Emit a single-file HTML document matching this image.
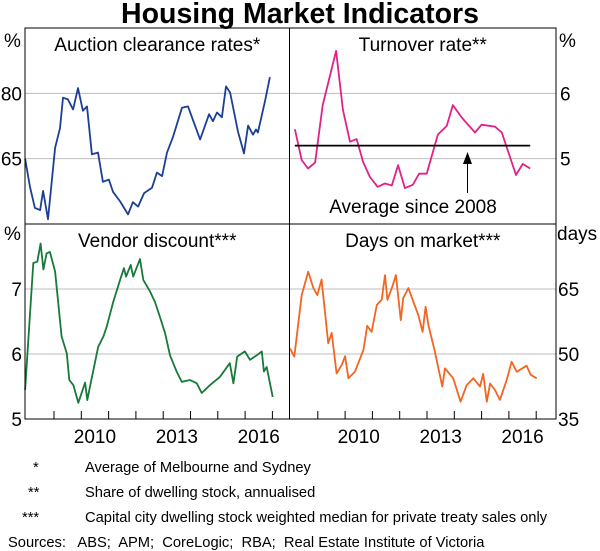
<!DOCTYPE html>
<html><head><meta charset="utf-8"><style>
body{margin:0;background:#fff;}
svg{display:block;font-family:"Liberation Sans",Arial,sans-serif;}
</style></head><body>
<svg id="chart" width="600" height="551" viewBox="0 0 600 551">
<text x="300" y="23" text-anchor="middle" font-size="28.5" font-weight="bold" fill="#000">Housing Market Indicators</text>
<g id="grid"></g>
<g id="series"></g>
<g id="frame"></g>
<g id="labels" font-size="19" fill="#000"></g>
<g id="notes" font-size="14.7" fill="#000" style="white-space:pre">
<text x="33" y="472">*</text><text x="85" y="472">Average of Melbourne and Sydney</text>
<text x="28" y="497">**</text><text x="85" y="497">Share of dwelling stock, annualised</text>
<text x="22" y="522">***</text><text x="85" y="522">Capital city dwelling stock weighted median for private treaty sales only</text>
<text x="8" y="547" xml:space="preserve">Sources:   ABS;  APM;  CoreLogic;  RBA;  Real Estate Institute of Victoria</text>
</g>
</svg>
<script>
// ---- data ----
const auctionYears=[2007.94,2008.12,2008.30,2008.49,2008.60,2008.78,2009.04,2009.22,2009.33,2009.51,2009.70,2009.88,2010.06,2010.21,2010.39,2010.61,2010.79,2011.01,2011.16,2011.42,2011.71,2011.89,2012.08,2012.30,2012.59,2012.77,2012.96,2013.14,2013.36,2013.69,2013.91,2014.35,2014.68,2014.82,2014.97,2015.15,2015.30,2015.45,2015.74,2015.96,2016.11,2016.29,2016.40,2016.47,2016.73,2016.91];
const auctionValues=[65,58.5,53.7,53.2,57.6,51.1,67.5,72,79,78.6,76.3,81.2,76,77,66,66.4,59.7,60.2,57.4,55.2,52.2,55,54,57.1,58.3,61.8,61,66.4,70,76.7,77,69.4,75.2,73.6,75.6,74.5,81.6,80.2,71.2,66.2,72.6,70.5,71.7,71,78.2,83.7];
const turnoverYears=[2008.16,2008.41,2008.64,2008.90,2009.18,2009.67,2009.92,2010.18,2010.42,2010.66,2010.91,2011.19,2011.46,2011.71,2011.94,2012.19,2012.48,2012.71,2012.99,2013.40,2013.72,2013.95,2014.27,2014.76,2015.00,2015.49,2015.74,2016.26,2016.51,2016.78];
const turnoverValues=[5.45,4.98,4.85,4.94,5.82,6.65,5.75,5.26,5.3,4.95,4.72,4.57,4.62,4.59,4.9,4.55,4.6,4.77,4.77,5.37,5.5,5.82,5.63,5.4,5.52,5.49,5.4,4.75,4.92,4.85];
const turnoverAverage=5.2;
const vendorYears=[2007.94,2008.24,2008.39,2008.51,2008.61,2008.73,2008.85,2009.04,2009.28,2009.47,2009.56,2009.71,2009.89,2010.01,2010.14,2010.22,2010.32,2010.62,2010.81,2010.93,2011.17,2011.42,2011.56,2011.64,2011.81,2011.90,2012.15,2012.27,2012.52,2012.70,2012.88,2013.07,2013.25,2013.49,2013.68,2013.98,2014.23,2014.41,2014.71,2015.08,2015.44,2015.57,2015.71,2015.99,2016.18,2016.43,2016.61,2016.69,2016.79,2017.01];
const vendorValues=[5.45,7.4,7.42,7.7,7.3,7.55,7.57,7.27,6.27,6.01,5.6,5.52,5.25,5.4,5.56,5.29,5.5,6.11,6.27,6.42,6.8,7.14,7.32,7.19,7.37,7.19,7.46,7.14,6.96,6.8,6.57,6.32,5.98,5.73,5.57,5.6,5.55,5.4,5.52,5.65,5.86,5.55,5.96,6.04,5.91,5.98,6.04,5.73,5.8,5.34];
const daysYears=[2007.98,2008.14,2008.41,2008.65,2008.84,2008.98,2009.14,2009.38,2009.51,2009.69,2009.88,2010.00,2010.12,2010.36,2010.67,2010.81,2010.97,2011.16,2011.34,2011.46,2011.55,2011.71,2011.86,2012.04,2012.13,2012.32,2012.50,2012.68,2012.84,2012.95,2013.05,2013.29,2013.56,2013.66,2013.96,2014.23,2014.45,2014.70,2014.94,2015.06,2015.19,2015.31,2015.49,2015.67,2015.92,2016.10,2016.29,2016.65,2016.80,2017.02];
const daysValues=[51.3,49.4,63.6,69,65.2,63.6,67.2,52.5,54.9,45.5,47.5,49.5,44.4,45.9,50.9,56.5,55.1,61.3,62.5,68.2,62.5,65.2,68.2,57.8,62.9,65.2,62.1,59,55.1,60.9,56.7,50.5,42.5,46.7,44.4,39,42.8,44.4,42.5,45.4,39,43.2,41.7,39.4,44,48.2,45.9,47.3,45.2,44.4];
const yearTickLabels=["2010","2013","2016"];
const leftTicksTop=["80","65"], rightTicksTop=["6","5"], leftTicksBot=["7","6","5"], rightTicksBot=["65","50","35"];

const NS="http://www.w3.org/2000/svg";
function mk(tag,attrs,parent){const e=document.createElementNS(NS,tag);for(const k in attrs)e.setAttribute(k,attrs[k]);parent.appendChild(e);return e;}
const L=25,M=289.5,R=556,T=28,MID=224,B=419;
const panels=[
 {x0:L,x1:M,y0:T,y1:MID,vmin:50,vmax:95,start:2008-(26.7-L)/27.3,years:auctionYears,vals:auctionValues,color:"#1c3f94",name:"auction-clearance-line",title:"Auction clearance rates*",grids:[80,65]},
 {x0:M,x1:R,y0:T,y1:MID,vmin:4,vmax:7,start:2008-(290.5-M)/27.3,years:turnoverYears,vals:turnoverValues,color:"#e0218a",name:"turnover-rate-line",title:"Turnover rate**",grids:[6,5]},
 {x0:L,x1:M,y0:MID,y1:B,vmin:5,vmax:8,start:2008-(26.7-L)/27.3,years:vendorYears,vals:vendorValues,color:"#17793a",name:"vendor-discount-line",title:"Vendor discount***",grids:[7,6],ticks:true},
 {x0:M,x1:R,y0:MID,y1:B,vmin:35,vmax:80,start:2008-(290.5-M)/27.3,years:daysYears,vals:daysValues,color:"#f26522",name:"days-on-market-line",title:"Days on market***",grids:[65,50],ticks:true}
];
const grid=document.getElementById('grid'),ser=document.getElementById('series'),frame=document.getElementById('frame'),lab=document.getElementById('labels');
panels.forEach(p=>{
 const xs=y=>p.x0+(y-p.start)*27.3;
 const ys=v=>p.y1-(v-p.vmin)/(p.vmax-p.vmin)*(p.y1-p.y0);
 p.xs=xs;p.ys=ys;
 p.grids.forEach(g=>{const l=mk('line',{x1:p.x0,x2:p.x1,y1:ys(g),y2:ys(g),stroke:"#bdbdbd","stroke-width":1},grid);
  
  });
 const d=p.years.map((y,i)=>(i?'L':'M')+xs(y).toFixed(1)+','+ys(p.vals[i]).toFixed(1)).join('');
 const path=mk('path',{d:d,fill:"none",stroke:p.color,"stroke-width":1.8,"stroke-linejoin":"round"},ser);
 
 
 const t=mk('text',{x:(p.x0+p.x1)/2,y:p.y0+23,"text-anchor":"middle"},lab);t.textContent=p.title;
 
 
 if(p.ticks){for(let y=2009;y<=2017;y++){const x=xs(y);if(x>p.x0+2&&x<p.x1-2){const tk=mk('line',{x1:x,x2:x,y1:B,y2:B-8,stroke:"#000","stroke-width":1},frame);
   
   }}
  yearTickLabels.forEach(s=>{const tx=mk('text',{x:xs(+s+0.5),y:443,"text-anchor":"middle"},lab);tx.textContent=s;
   
   });}
});
// turnover average
const tp=panels[1];
const avg=mk('line',{x1:tp.xs(turnoverYears[0]),x2:tp.xs(turnoverYears[turnoverYears.length-1]),y1:tp.ys(turnoverAverage),y2:tp.ys(turnoverAverage),stroke:"#000","stroke-width":1.8},ser);


const ar=mk('line',{x1:467.5,x2:467.5,y1:162,y2:193,stroke:"#000","stroke-width":1},ser);


const ah=mk('path',{d:"M467.5,152 L463,164 L472,164 Z",fill:"#000"},ser);


const at=mk('text',{x:413,y:213,"text-anchor":"middle"},lab);at.textContent="Average since 2008";


// frame
const fr=mk('rect',{x:L,y:T,width:R-L,height:B-T,fill:"none",stroke:"#000","stroke-width":1},frame);


mk('line',{x1:M,x2:M,y1:T,y2:B,stroke:"#000","stroke-width":1},frame);
mk('line',{x1:L,x2:R,y1:MID,y2:MID,stroke:"#000","stroke-width":1},frame);
// y labels
function ylab(txt,x,y,anchor){const e=mk('text',{x:x,y:y+7,"text-anchor":anchor},lab);e.textContent=txt;
 
 }
ylab("%",4,40,"start");ylab("%",559,40,"start");ylab("%",4,233,"start");ylab("days",557,233,"start");
leftTicksTop.forEach(s=>ylab(s,22,panels[0].ys(+s),"end"));
rightTicksTop.forEach(s=>ylab(s,560,panels[1].ys(+s),"start"));
leftTicksBot.forEach(s=>ylab(s,22,panels[2].ys(+s),"end"));
rightTicksBot.forEach(s=>ylab(s,558,panels[3].ys(+s),"start"));
</script>
</body></html>
